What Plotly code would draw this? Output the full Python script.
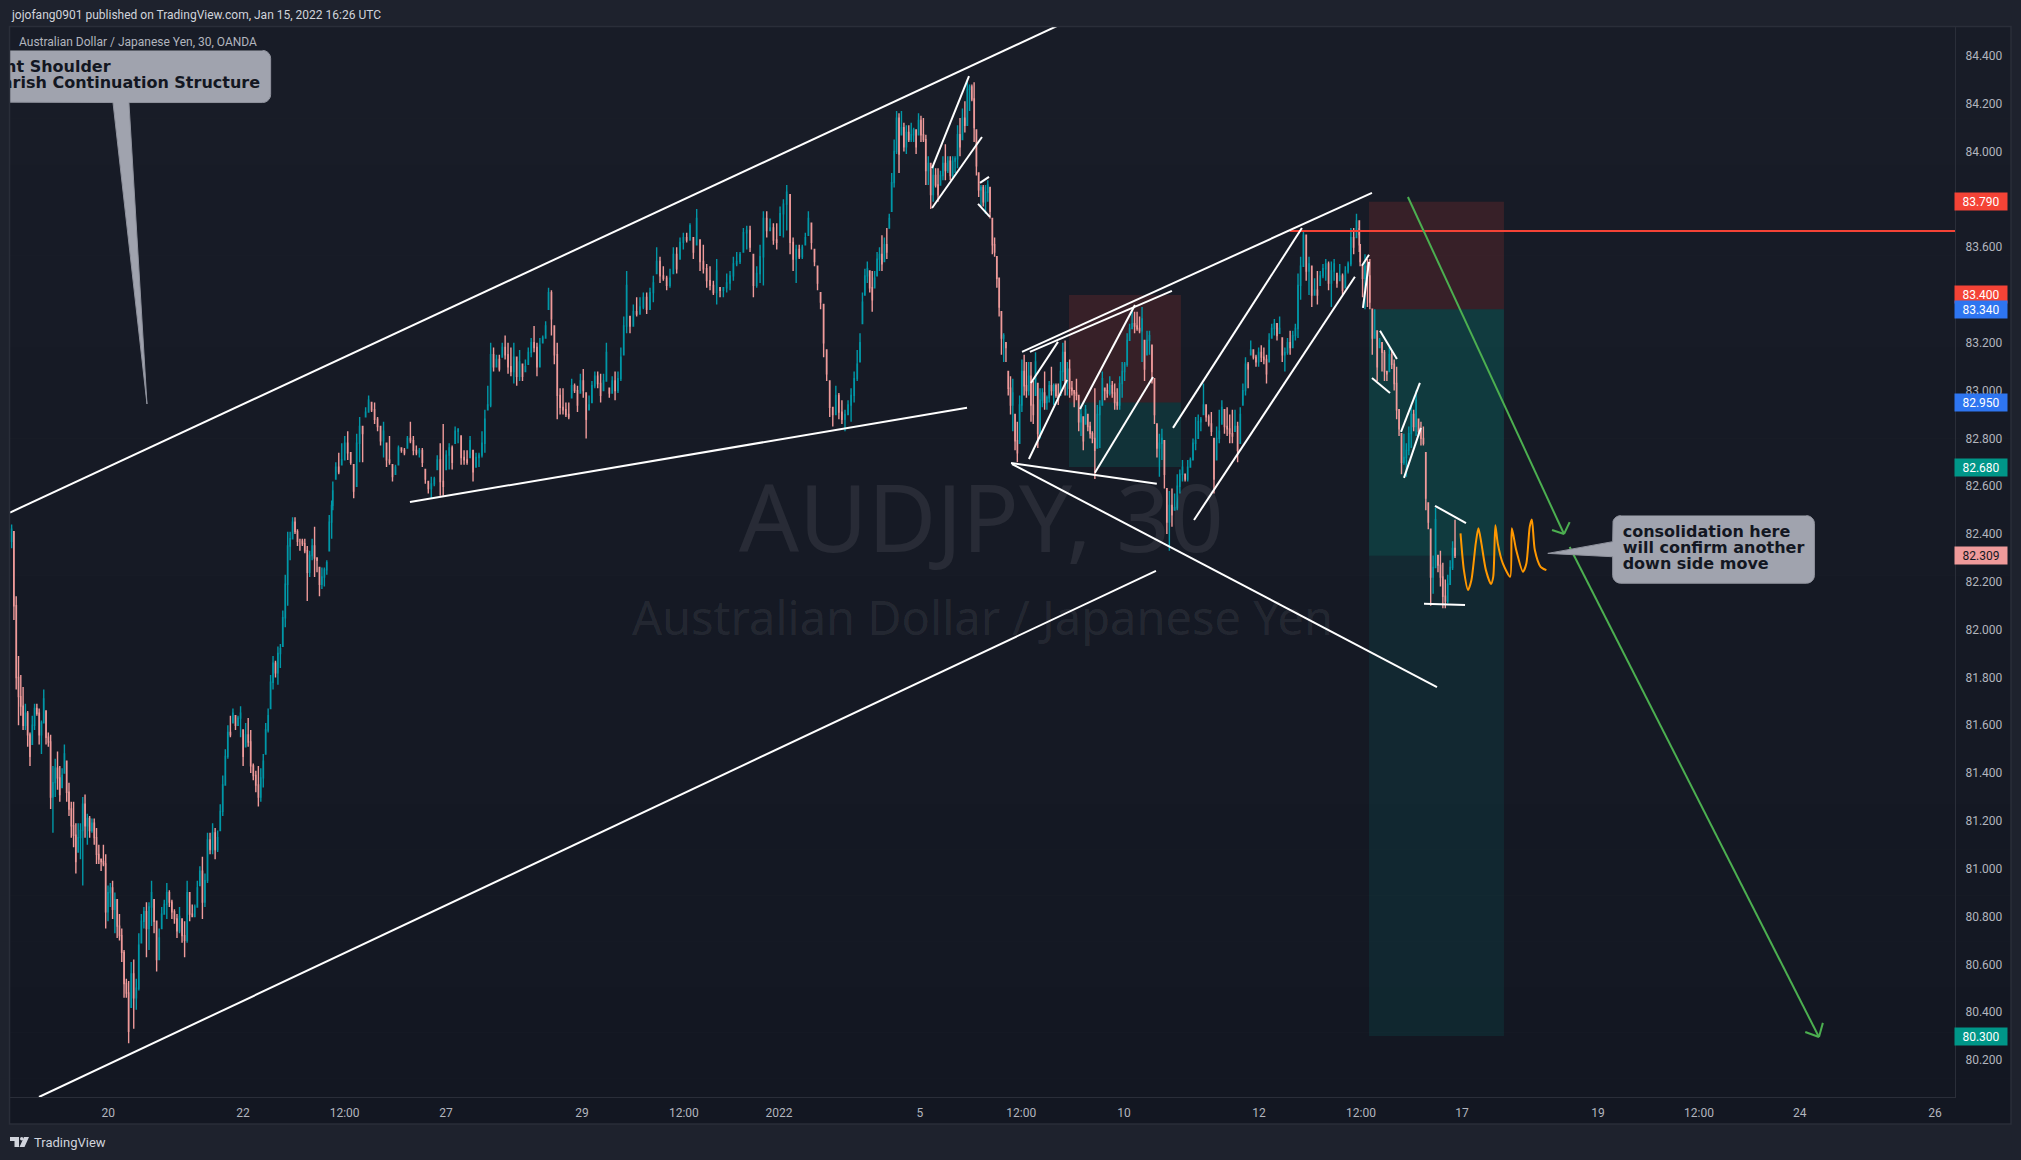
import numpy as np
import plotly.graph_objects as go

# AUDJPY 30m, prices, in hundredths of a yen. Four stretches of the chart.
high_a = [8244,8241,8214,8189,8181,8176,8169,8166,8157,8164,8169,8169,8167,8162,8175,8166,8157,8156,8143,8146,8149,8143,8142,8152,8145,8136,8128,8128,8119,8119,8119,8130,8131,8123,8122,8121,8121,8117,8110,8104,8110,8106,8093,8094,8095,8090,8087,8081,8075,8066,8054,8053,8061,8062,8054,8073,8081,8084,8086,8086,8095,8087,8078,8075,8084,8087,8094,8091,8087,8083,8081,8084,8079,8078,8095,8090,8085,8085,8095,8101,8105,8098,8115,8115,8119,8117,8116,8127,8139,8150,8160,8164,8167,8164,8164,8168,8158,8161,8163,8158,8144,8141,8143,8142,8148,8161,8167,8181,8189,8187,8193,8194,8208,8223,8241,8241,8247,8247,8242,8238,8238,8238,8235,8233,8238,8243,8230,8226,8226,8226,8229,8248,8254]
low_a = [8234,8204,8175,8160,8164,8158,8158,8151,8143,8152,8158,8164,8152,8148,8161,8152,8151,8125,8115,8130,8133,8128,8134,8140,8128,8122,8113,8109,8098,8107,8104,8093,8113,8110,8113,8115,8110,8102,8102,8099,8101,8075,8078,8084,8079,8073,8071,8070,8061,8046,8046,8027,8042,8033,8041,8049,8069,8075,8063,8066,8076,8073,8057,8062,8075,8081,8079,8084,8079,8077,8071,8073,8069,8063,8069,8078,8080,8080,8084,8093,8079,8084,8094,8106,8106,8104,8107,8116,8122,8135,8146,8155,8161,8158,8160,8155,8143,8151,8151,8140,8137,8132,8126,8128,8134,8148,8157,8167,8175,8180,8177,8184,8193,8201,8210,8229,8238,8240,8235,8233,8235,8232,8212,8222,8229,8222,8224,8214,8217,8218,8223,8233,8238]
close_a = [8242,8210,8180,8172,8168,8160,8165,8156,8147,8160,8167,8165,8156,8161,8171,8155,8153,8130,8136,8142,8138,8131,8139,8148,8132,8125,8118,8114,8103,8113,8116,8127,8118,8121,8116,8119,8113,8106,8104,8103,8102,8082,8090,8092,8083,8087,8076,8072,8065,8052,8048,8032,8056,8046,8050,8068,8078,8082,8075,8084,8090,8078,8062,8071,8081,8085,8090,8086,8082,8079,8074,8080,8072,8070,8090,8081,8080,8084,8092,8099,8086,8095,8112,8108,8115,8108,8113,8124,8135,8147,8157,8156,8165,8160,8163,8165,8147,8156,8153,8143,8139,8135,8130,8138,8145,8158,8164,8178,8186,8182,8190,8192,8205,8219,8235,8238,8245,8241,8237,8237,8236,8233,8224,8231,8235,8230,8229,8219,8222,8225,8228,8245,8252]

high_b = [8262,8270,8274,8278,8281,8283,8274,8269,8282,8289,8285,8293,8298,8295,8295,8289,8285,8287,8278,8281,8269,8269,8277,8276,8276,8281,8287,8281,8277,8276,8276,8267,8262,8264,8264,8273,8278,8286,8275,8278,8277,8285,8284,8281,8275,8275,8281,8275,8274,8274,8283,8292,8302,8320,8318,8315,8315,8320,8323,8320,8318,8320,8314,8317,8311,8313,8318,8322,8327,8320,8322,8323,8329,8343,8342,8327,8320,8301,8301,8295,8295,8305,8303,8302,8307,8309,8299,8298,8304,8308,8308,8307,8307,8320,8301,8306,8308,8308,8318,8331,8350,8331,8336,8339,8339,8341,8341,8343,8348,8360,8356,8352,8348,8351,8360,8360,8364,8366,8366,8370,8364,8376,8363,8361,8353,8352,8346,8355,8343,8343,8349,8350,8356,8358,8358,8368,8369,8369,8357,8352,8361,8375,8375,8372,8370,8370,8377,8380,8386,8382,8364,8361,8361,8361,8366,8375,8370,8359,8352,8341,8336,8317,8304,8293,8302,8299,8296,8292,8296,8301,8308,8317]
low_b = [8250,8263,8265,8269,8271,8271,8269,8255,8260,8270,8270,8289,8291,8291,8286,8283,8277,8272,8268,8269,8262,8265,8269,8274,8273,8276,8278,8273,8273,8272,8268,8261,8257,8255,8260,8267,8256,8256,8267,8267,8267,8278,8278,8269,8269,8269,8272,8262,8268,8268,8272,8274,8292,8293,8308,8310,8308,8314,8313,8307,8306,8303,8302,8304,8304,8308,8311,8314,8316,8306,8310,8320,8322,8334,8323,8311,8288,8290,8290,8289,8288,8297,8299,8291,8299,8297,8280,8292,8295,8301,8301,8295,8300,8304,8297,8299,8296,8299,8304,8315,8324,8324,8327,8331,8332,8334,8332,8334,8337,8349,8345,8346,8342,8343,8349,8349,8355,8359,8362,8363,8355,8361,8350,8349,8343,8342,8340,8336,8339,8339,8341,8342,8346,8352,8353,8358,8359,8358,8339,8343,8345,8344,8364,8367,8361,8359,8365,8364,8367,8357,8350,8345,8355,8355,8361,8365,8359,8352,8342,8334,8314,8304,8289,8285,8290,8288,8286,8283,8290,8287,8295,8304]
close_b = [8258,8268,8266,8271,8278,8274,8270,8258,8278,8285,8282,8291,8296,8292,8288,8285,8279,8283,8271,8270,8264,8268,8276,8275,8274,8280,8279,8275,8274,8275,8270,8263,8259,8261,8263,8271,8262,8260,8273,8276,8270,8283,8284,8272,8271,8270,8279,8266,8272,8273,8278,8288,8294,8315,8310,8313,8309,8318,8315,8310,8308,8314,8306,8312,8306,8310,8316,8320,8318,8310,8319,8322,8327,8341,8330,8315,8298,8293,8292,8290,8289,8302,8300,8294,8304,8300,8288,8294,8302,8306,8303,8298,8304,8316,8299,8304,8300,8305,8314,8327,8344,8327,8333,8332,8335,8339,8334,8341,8345,8354,8348,8347,8344,8347,8357,8351,8362,8364,8363,8369,8358,8372,8354,8351,8346,8344,8341,8350,8342,8343,8345,8348,8353,8354,8357,8366,8367,8360,8344,8349,8356,8372,8367,8368,8363,8362,8374,8378,8383,8362,8355,8359,8356,8360,8364,8372,8362,8354,8345,8337,8320,8307,8293,8290,8298,8291,8288,8290,8294,8298,8305,8311]

high_c = [8324,8341,8351,8354,8350,8350,8350,8358,8360,8365,8364,8368,8374,8391,8405,8417,8416,8417,8412,8411,8411,8412,8410,8409,8416,8415,8414,8407,8398,8395,8394,8393,8393,8392,8398,8403,8398,8398,8398,8398,8411,8414,8418,8421,8430,8428,8428,8429,8409,8391,8386,8386,8386,8388,8385,8372,8364,8356,8347,8333,8324,8320,8308,8306,8305,8290,8287,8298,8313,8315,8312,8312,8312,8304,8316,8303,8301,8301,8308,8298,8304,8310,8303,8303,8303,8312,8320,8321,8312,8313,8304,8300,8305,8298,8293,8289,8294,8290,8287,8283,8301,8294,8296,8308,8301,8303,8306,8304,8303,8301,8306,8312,8312,8324,8328,8334,8333,8333,8331,8335,8321,8325,8325,8319,8305,8286,8282,8284,8279,8259,8258,8259,8257,8265,8267,8271,8265,8271,8272,8280,8289,8290,8289,8303,8294,8290,8291,8280,8285,8292,8296,8292,8293,8290,8292,8292,8287,8293,8303,8314,8312,8321,8317,8315,8318,8319,8318,8315,8324,8328,8330,8328,8331,8322,8318,8322,8325,8325,8328,8349,8356,8367,8365,8356,8352,8347,8350,8350,8353,8355,8354,8354,8355,8349,8353,8349,8352,8354,8368,8368,8374,8371,8368]
low_c = [8312,8328,8340,8345,8341,8333,8343,8348,8350,8350,8354,8355,8368,8375,8385,8399,8391,8407,8400,8399,8404,8404,8404,8399,8407,8404,8404,8386,8386,8376,8379,8385,8379,8386,8388,8388,8391,8388,8389,8391,8393,8398,8405,8408,8411,8417,8421,8404,8390,8381,8377,8377,8374,8379,8372,8357,8356,8343,8331,8315,8312,8312,8298,8290,8283,8275,8270,8278,8291,8298,8297,8298,8287,8286,8298,8276,8280,8293,8292,8292,8295,8298,8294,8297,8294,8298,8304,8298,8298,8297,8298,8293,8296,8283,8281,8275,8286,8283,8280,8278,8263,8276,8276,8294,8296,8297,8298,8297,8292,8292,8292,8297,8304,8310,8321,8326,8324,8325,8324,8312,8304,8315,8315,8303,8286,8272,8264,8271,8259,8240,8233,8243,8250,8250,8257,8262,8262,8262,8268,8271,8275,8280,8283,8290,8287,8285,8281,8257,8271,8278,8286,8282,8281,8278,8278,8283,8270,8278,8294,8298,8301,8315,8313,8310,8310,8312,8311,8303,8312,8322,8323,8321,8324,8312,8308,8315,8315,8318,8321,8322,8338,8352,8346,8340,8335,8340,8336,8344,8347,8346,8342,8335,8346,8343,8346,8340,8343,8349,8352,8357,8364,8365,8358]
close_c = [8320,8337,8348,8351,8343,8338,8347,8355,8357,8353,8361,8358,8372,8387,8400,8414,8399,8410,8402,8408,8405,8407,8409,8402,8413,8407,8405,8392,8395,8382,8390,8386,8382,8390,8395,8392,8396,8390,8396,8397,8407,8402,8414,8411,8426,8427,8422,8410,8394,8384,8385,8379,8383,8386,8375,8361,8358,8347,8335,8322,8323,8318,8301,8294,8299,8279,8274,8294,8308,8302,8300,8306,8294,8290,8312,8282,8296,8299,8295,8297,8302,8300,8302,8298,8296,8308,8316,8304,8309,8301,8300,8299,8298,8287,8290,8279,8292,8285,8282,8280,8275,8290,8293,8305,8300,8299,8302,8299,8295,8294,8303,8308,8311,8321,8326,8328,8327,8326,8325,8330,8309,8321,8323,8308,8290,8276,8278,8280,8265,8245,8252,8248,8251,8260,8265,8268,8263,8268,8271,8278,8279,8287,8288,8294,8289,8286,8283,8263,8280,8283,8293,8285,8284,8282,8281,8285,8275,8290,8300,8311,8309,8317,8314,8312,8316,8314,8313,8307,8321,8326,8328,8323,8326,8315,8316,8320,8318,8323,8326,8344,8352,8365,8350,8353,8340,8342,8340,8348,8351,8353,8345,8350,8353,8345,8348,8342,8350,8353,8364,8360,8371,8367,8361]

high_d = [8361,8352,8357,8355,8355,8334,8334,8325,8322,8320,8317,8308,8318,8317,8313,8310,8292,8282,8282,8278,8285,8294,8292,8300,8288,8287,8285,8274,8253,8242,8231,8251,8231,8233,8228,8221,8223,8229,8237,8246]
low_d = [8352,8339,8334,8335,8334,8315,8322,8304,8318,8308,8304,8304,8308,8309,8300,8288,8281,8265,8269,8264,8273,8276,8283,8281,8281,8277,8277,8250,8242,8210,8215,8226,8224,8218,8209,8209,8211,8219,8225,8230]
close_d = [8354,8347,8352,8348,8337,8322,8325,8310,8321,8316,8308,8307,8315,8311,8303,8292,8284,8270,8272,8275,8282,8290,8285,8296,8283,8280,8278,8255,8245,8222,8226,8246,8227,8222,8214,8212,8219,8226,8234,8231]

# Row number -> 30-minute bar number, at points along each stretch
knots_a = ([0, 51, 102, 132], [0.8, 83.8, 175.8, 227.8])
knots_b = ([0, 50, 100, 149, 171], [228.6, 334.4, 437.0, 552.9, 600.5])
knots_c = ([0, 44, 99, 130, 180, 201], [602.5, 678.6, 767.3, 821.9, 915.0, 956.6])
knots_d = ([0, 39], [957.2, 1024.5])

price_ticks = [80.2, 80.4, 80.6, 80.8, 81.0, 81.2, 81.4, 81.6, 81.8, 82.0, 82.2, 82.4, 82.6, 82.8, 83.0, 83.2, 83.4, 83.6, 83.8, 84.0, 84.2, 84.4]
time_tick_bars = [69.4, 164.9, 237, 308.9, 405.3, 477.6, 545, 645, 716.9, 789.7, 885.4, 957.8, 1029.4, 1125.9, 1197.5, 1269, 1365]
time_tick_text = ["20", "22", "12:00", "27", "29", "12:00", "2022", "5", "12:00", "10", "12", "12:00", "17", "19", "12:00", "24", "26"]

# Drawn trend lines: bar, price, bar, price
trend_lines = [
    (-0.35, 82.49, 742.2, 84.525), (20.2, 80.045, 812.4, 82.246), (283.3, 82.534, 678.4, 82.928),
    (653.6, 83.931, 679.8, 84.316), (653.6, 83.764, 689, 84.061), (687.6, 83.869, 694, 83.894),
    (686.2, 83.781, 694.6, 83.727), (717.4, 83.162, 965.6, 83.827), (723, 83.162, 823.7, 83.417),
    (723.7, 83.032, 742.9, 83.204), (722.3, 82.714, 749.3, 83.045), (758.5, 82.923, 797.5, 83.358),
    (769.1, 82.656, 810.3, 83.057), (709.6, 82.697, 813, 82.61), (710.3, 82.693, 1011.7, 81.76),
    (824.5, 82.844, 915.9, 83.68), (839.4, 82.459, 953.5, 83.476), (958.5, 83.522, 963.5, 83.568),
    (959.2, 83.346, 963.5, 83.538), (971.3, 83.25, 983.3, 83.132), (965.6, 83.053, 978.4, 82.99),
    (986.2, 82.827, 999.6, 83.032), (988.3, 82.635, 1000.3, 82.844), (1010.3, 82.518, 1032.3, 82.446),
    (1002.5, 82.108, 1031.6, 82.103),
]
green_lines = [
    (991.1, 83.81, 1101.8, 82.4), (1093.3, 82.417, 1101.8, 82.4), (1105.8, 82.45, 1101.8, 82.4),
    (1105.8, 82.346, 1282.6, 80.296), (1272.9, 80.317, 1282.6, 80.296), (1285.4, 80.355, 1282.6, 80.296),
]
stop_line = (907.4, 83.668, 1379.1, 83.668)
orange_bars = [1028.4, 1030.8, 1033.7, 1036.1, 1039.2, 1041.1, 1043.2, 1046.4, 1050, 1051.6, 1053.1, 1054.8, 1058.4, 1063.6, 1064.8, 1067.9, 1072.7, 1075.1, 1077.5, 1079, 1081.1, 1085.2, 1089.3]
orange_prices = [82.403, 82.249, 82.166, 82.207, 82.361, 82.424, 82.361, 82.249, 82.191, 82.221, 82.437, 82.361, 82.277, 82.221, 82.424, 82.333, 82.242, 82.277, 82.431, 82.461, 82.333, 82.263, 82.249]

TEAL, PINK = "#0097a7", "#ef9a9a"
WHITE, GREEN, RED, ORANGE = "#ffffff", "#4caf50", "#f44336", "#ff9800"
OUTER = "#1e222d"
GRID = "#2a2e39"
SANS = "Roboto"
BOLD = "DejaVu Sans"
X_RANGE = [-0.35, 1379.1]
Y_RANGE = [80.045, 84.521]

highs = np.array(high_a + high_b + high_c + high_d) / 100
lows = np.array(low_a + low_b + low_c + low_d) / 100
closes = np.array(close_a + close_b + close_c + close_d) / 100
bar_nos = np.concatenate([
    np.interp(np.arange(n), k[0], k[1])
    for k, n in zip([knots_a, knots_b, knots_c, knots_d], [len(high_a), len(high_b), len(high_c), len(high_d)])
])
opens = np.clip(np.concatenate([[closes[0] - 0.05], closes[:-1]]), lows, highs)

fig = go.Figure()
fig.add_trace(go.Candlestick(
    x=bar_nos, open=opens, high=highs, low=lows, close=closes, whiskerwidth=0,
    increasing=dict(line=dict(color=TEAL, width=1.4), fillcolor=TEAL),
    decreasing=dict(line=dict(color=PINK, width=1.4), fillcolor=PINK),
    hoverinfo="skip", showlegend=False,
))


def line(seg, color, width=2):
    fig.add_trace(go.Scatter(x=[seg[0], seg[2]], y=[seg[1], seg[3]], mode="lines",
                             line=dict(color=color, width=width), hoverinfo="skip", showlegend=False))


line(stop_line, RED, 2)
for seg in trend_lines:
    line(seg, WHITE)
for seg in green_lines:
    line(seg, GREEN)
fig.add_trace(go.Scatter(x=orange_bars, y=orange_prices, mode="lines",
                         line=dict(color=ORANGE, width=2, shape="spline", smoothing=0.7),
                         hoverinfo="skip", showlegend=False))


def callout(left, right, top, bottom, tail):
    rx, ry = 5.7, 0.033
    xs, ys = [], []
    corners = [(right - rx, top - ry, 90, 0), (right - rx, bottom + ry, 0, -90),
               (left + rx, bottom + ry, -90, -180), (left + rx, top - ry, 180, 90)]
    for i, (cx, cy, a0, a1) in enumerate(corners):
        for a in np.radians(np.linspace(a0, a1, 6)):
            xs.append(cx + rx * np.cos(a))
            ys.append(cy + ry * np.sin(a))
        if i == tail["after"]:
            xs.extend(tail["x"])
            ys.extend(tail["y"])
    fig.add_trace(go.Scatter(x=xs, y=ys, mode="lines", fill="toself", fillcolor="#a0a3ae",
                             line=dict(color="#8f929d", width=1), hoverinfo="skip", showlegend=False))


callout(-12, 184.5, 84.423, 84.205, dict(after=1, x=[84, 96.8, 72.7], y=[84.205, 82.944, 84.205]))
callout(1136.3, 1279.4, 82.477, 82.194, dict(after=2, x=[1136.3, 1090.3, 1136.3], y=[82.305, 82.319, 82.368]))


def label(x, y, text, position):
    fig.add_trace(go.Scatter(x=[x], y=[y], mode="text", text=[text], textposition=position,
                             textfont=dict(family=BOLD, size=16, color="#131722", weight="bold"),
                             cliponaxis=True, hoverinfo="skip", showlegend=False))


label(71, 84.35, "Right Shoulder", "middle left")
label(177, 84.283, "Bearish Continuation Structure", "middle left")
label(1143.4, 82.403, "consolidation here", "middle right")
label(1143.4, 82.336, "will confirm another", "middle right")
label(1143.4, 82.27, "down side move", "middle right")

PW, PH = 1945, 1070


def fx(px):
    return (px - 10) / PW


def fy(py):
    return (1097 - py) / PH


shapes = []
# Pane background, slightly darker towards the bottom
top_c, bot_c = np.array([24, 28, 39]), np.array([19, 23, 34])
bands = 24
for i in range(bands):
    t = i / (bands - 1)
    c = (top_c + (bot_c - top_c) * t).round().astype(int)
    y0 = 27 + (1124 - 27) * i / bands
    y1 = 27 + (1124 - 27) * (i + 1) / bands
    shapes.append(dict(type="rect", xref="paper", yref="paper", x0=fx(10), x1=fx(2011), y0=fy(y0), y1=fy(y1),
                       fillcolor=f"rgb({c[0]},{c[1]},{c[2]})", line_width=0, layer="below"))
# Risk/reward boxes
for x0, x1, y0, y1, col in [
    (750.7, 830.1, 82.95, 83.40, "rgba(244,67,54,0.15)"),
    (750.7, 830.1, 82.68, 82.95, "rgba(0,150,136,0.2)"),
    (963.5, 1059.2, 83.34, 83.79, "rgba(244,67,54,0.15)"),
    (963.5, 1059.2, 82.309, 83.34, "rgba(0,150,136,0.26)"),
    (963.5, 1059.2, 80.30, 82.309, "rgba(0,150,136,0.13)"),
]:
    shapes.append(dict(type="rect", xref="x", yref="y", x0=x0, x1=x1, y0=y0, y1=y1,
                       fillcolor=col, line_width=0, layer="below"))
# Pane frame
shapes.append(dict(type="rect", xref="paper", yref="paper", x0=fx(9.5), x1=fx(2011), y0=fy(26.5), y1=fy(1124),
                   line=dict(color=GRID, width=1.5), fillcolor="rgba(0,0,0,0)", layer="above"))
# TradingView mark
logo = (f"M {fx(10)} {fy(1137)} L {fx(19)} {fy(1137)} L {fx(19)} {fy(1147)} L {fx(14.5)} {fy(1147)} "
        f"L {fx(14.5)} {fy(1141)} L {fx(10)} {fy(1141)} Z "
        f"M {fx(24)} {fy(1137)} L {fx(29)} {fy(1137)} L {fx(24.5)} {fy(1147)} L {fx(19.5)} {fy(1147)} Z")
shapes.append(dict(type="path", xref="paper", yref="paper", path=logo, fillcolor="#d1d4dc", line_width=0))
shapes.append(dict(type="circle", xref="paper", yref="paper", x0=fx(20), x1=fx(23.5), y0=fy(1140.5), y1=fy(1137),
                   fillcolor="#d1d4dc", line_width=0))

annotations = [
    dict(xref="paper", yref="paper", x=fx(9), y=fy(15), xanchor="left", yanchor="middle", showarrow=False,
         text="jojofang0901 published on TradingView.com, Jan 15, 2022 16:26 UTC",
         font=dict(family=SANS, size=12, color="#d1d4dc")),
    dict(xref="paper", yref="paper", x=fx(17), y=fy(42), xanchor="left", yanchor="middle", showarrow=False,
         text="Australian Dollar / Japanese Yen, 30, OANDA", font=dict(family=SANS, size=12, color="#b2b5be")),
    dict(xref="paper", yref="paper", x=fx(32), y=fy(1142), xanchor="left", yanchor="middle", showarrow=False,
         text="TradingView", font=dict(family=SANS, size=13, color="#d1d4dc")),
    dict(xref="paper", yref="paper", x=fx(981), y=fy(515.5), xanchor="center", yanchor="middle", showarrow=False,
         text="AUDJPY, 30", font=dict(family="Noto Sans", size=94, color="rgba(255,255,255,0.08)")),
    dict(xref="paper", yref="paper", x=fx(982), y=fy(616.5), xanchor="center", yanchor="middle", showarrow=False,
         text="Australian Dollar / Japanese Yen", font=dict(family="Noto Sans", size=47, color="rgba(255,255,255,0.08)")),
]
price_tags = [
    (83.79, "83.790", "#f44336", "#ffffff"), (83.40, "83.400", "#f44336", "#ffffff"),
    (83.34, "83.340", "#2e75f0", "#ffffff"), (82.95, "82.950", "#2e75f0", "#ffffff"),
    (82.68, "82.680", "#009688", "#ffffff"), (82.309, "82.309", "#ef9a9a", "#131722"),
    (80.30, "80.300", "#009688", "#ffffff"),
]
for p, txt, bg, fg in price_tags:
    annotations.append(dict(xref="paper", yref="y", x=1, y=p, xanchor="left", yanchor="middle", showarrow=False,
                            text=txt, bgcolor=bg, width=52, height=17, align="center", borderpad=0, xshift=-1,
                            font=dict(family=SANS, size=12, color=fg)))

fig.update_layout(
    width=2021, height=1160, margin=dict(l=10, r=66, t=27, b=63),
    paper_bgcolor=OUTER, plot_bgcolor="rgba(0,0,0,0)", showlegend=False,
    shapes=shapes, annotations=annotations,
    xaxis=dict(range=X_RANGE, rangeslider=dict(visible=False), showgrid=False, zeroline=False,
               tickmode="array", tickvals=time_tick_bars, ticktext=time_tick_text, ticks="",
               tickfont=dict(family=SANS, size=12, color="#b2b5be"), showline=True, linecolor=GRID, linewidth=1,
               ticklabelstandoff=5),
    yaxis=dict(range=Y_RANGE, side="right", showgrid=False, zeroline=False, tickmode="array",
               tickvals=price_ticks, ticktext=[f"{v:.3f}" for v in price_ticks], ticks="",
               tickfont=dict(family=SANS, size=12, color="#b2b5be"), showline=True, linecolor=GRID, linewidth=1,
               ticklabelstandoff=7),
)

fig.write_html("out.html", config=dict(displayModeBar=False),
               post_script="document.body.style.margin='0';document.body.style.background='#1e222d';")
